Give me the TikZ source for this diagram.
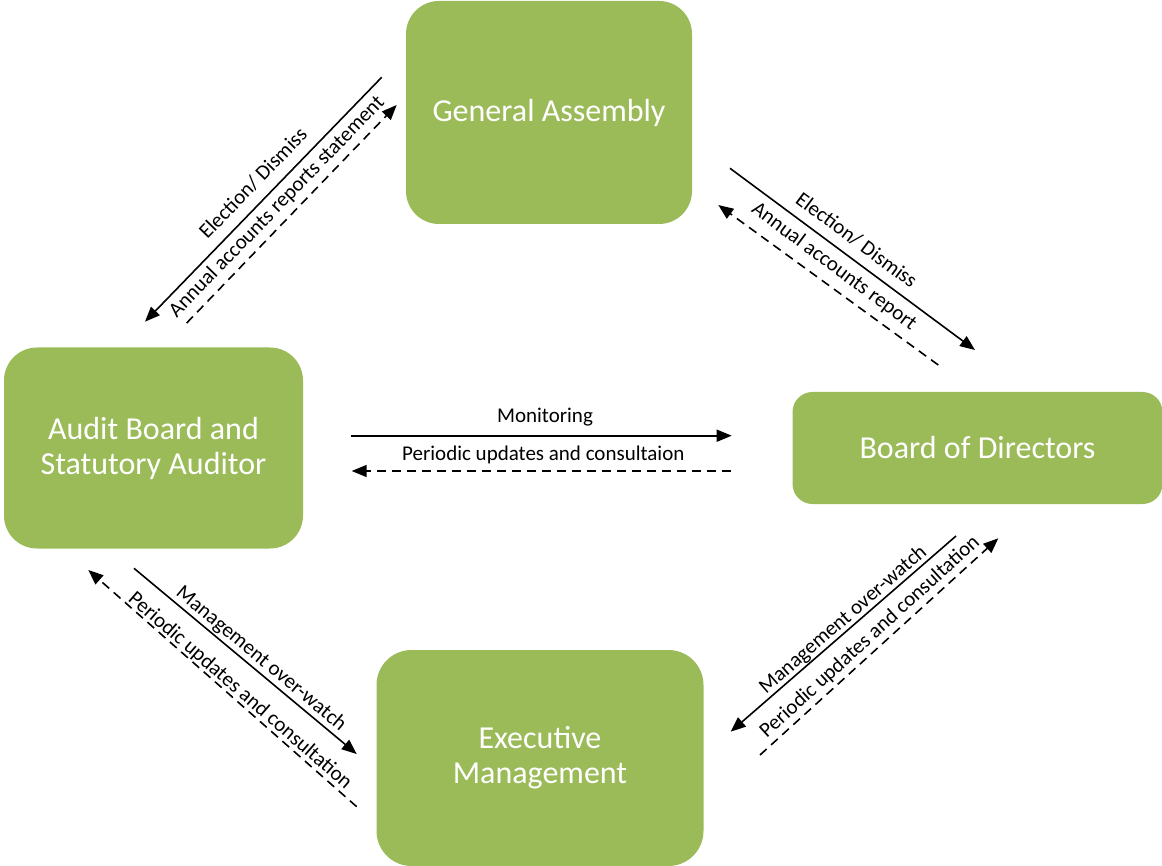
\documentclass[tikz,border=0pt]{standalone}
\usepackage{fontspec}
\setmainfont{Carlito}
\usetikzlibrary{arrows.meta}
\definecolor{boxgreen}{HTML}{9BBB59}
\tikzset{
  box/.style={fill=boxgreen, draw=none, text=white, align=center, font=\fontsize{32}{35}\selectfont, inner sep=0pt},
  conn/.style={line width=1.6pt, -{Triangle[length=15pt,width=12pt]}},
  dconn/.style={conn, dash pattern=on 9pt off 6pt},
  lbl/.style={font=\fontsize{21}{24}\selectfont, inner sep=0pt},
}
\begin{document}
\begin{tikzpicture}[x=1pt,y=-1pt]
\useasboundingbox (0,0) rectangle (1162,866);
% boxes
\node[box, minimum width=286pt, minimum height=223pt, rounded corners=33pt] (ga) at (549,112.5) {General Assembly};
\node[box, minimum width=299pt, minimum height=201pt, rounded corners=33pt] (ab) at (153.5,448) {Audit Board and\\Statutory Auditor};
\node[box, minimum width=370pt, minimum height=112pt, rounded corners=20pt] (bd) at (977.5,448) {Board of Directors};
\node[box, minimum width=327pt, minimum height=216pt, rounded corners=35pt] (em) at (540,758) {Executive\\Management};
% GA - Audit
\coordinate (a1s) at (381.7,77.3);
\coordinate (a1e) at (145,321.7);
\coordinate (a2s) at (186.7,323);
\coordinate (a2e) at (396.7,105);
\draw[conn] (a1s) -- (a1e);
\draw[dconn] (a2s) -- (a2e);
\node[lbl, rotate=45.9] (l1) at (253,183) {Election/ Dismiss};
\node[lbl, rotate=45.9] (l2) at (277,207) {Annual accounts reports statement};
% GA - BoD
\coordinate (b1s) at (730,168.3);
\coordinate (b1e) at (975,350);
\coordinate (b2s) at (938.3,365);
\coordinate (b2e) at (718.3,205);
\draw[conn] (b1s) -- (b1e);
\draw[dconn] (b2s) -- (b2e);
\node[lbl, rotate=-36.6] (l3) at (856.7,240) {Election/ Dismiss};
\node[lbl, rotate=-36.6] (l4) at (834,266.7) {Annual accounts report};
% Audit - BoD
\coordinate (c1s) at (350.7,435.7);
\coordinate (c1e) at (731.7,435.7);
\coordinate (c2s) at (730.7,471);
\coordinate (c2e) at (351.7,471);
\draw[conn] (c1s) -- (c1e);
\draw[dconn] (c2s) -- (c2e);
\node[lbl] (l5) at (545,416.7) {Monitoring};
\node[lbl] (l6) at (543.3,455) {Periodic updates and consultaion};
% Audit - Exec
\coordinate (d1s) at (134,568.3);
\coordinate (d1e) at (356.7,754);
\coordinate (d2s) at (356.7,806.7);
\coordinate (d2e) at (88.3,570);
\draw[conn] (d1s) -- (d1e);
\draw[dconn] (d2s) -- (d2e);
\node[lbl, rotate=-39.8] (l7) at (261,659) {Management over-watch};
\node[lbl, rotate=-41] (l8) at (240,691) {Periodic updates and consultation};
% BoD - Exec
\coordinate (e1s) at (956,536);
\coordinate (e1e) at (730.7,731.7);
\coordinate (e2s) at (760,755);
\coordinate (e2e) at (998.3,538.3);
\draw[conn] (e1s) -- (e1e);
\draw[dconn] (e2s) -- (e2e);
\node[lbl, rotate=41] (l9) at (843.3,620) {Management over-watch};
\node[lbl, rotate=42.3] (l10) at (870,637) {Periodic updates and consultation};
\end{tikzpicture}
\end{document}
